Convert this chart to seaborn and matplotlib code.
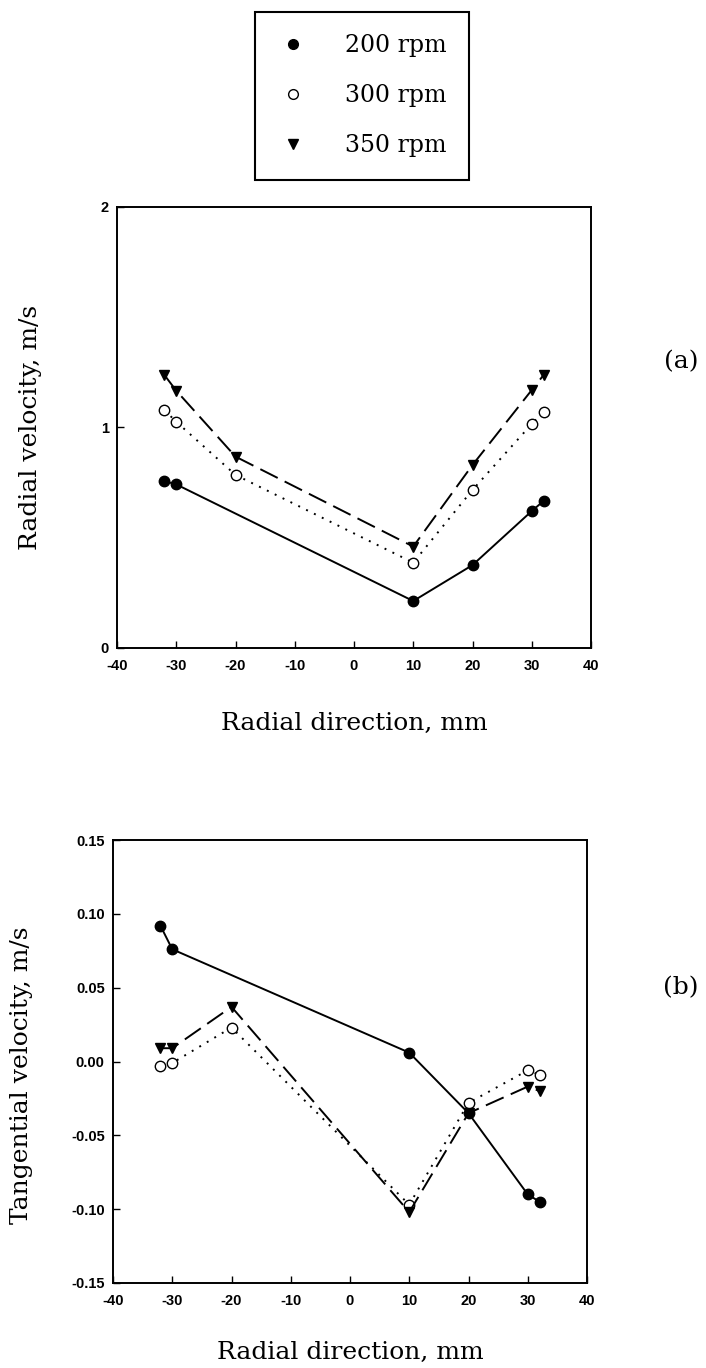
import matplotlib
matplotlib.use("Agg")
import matplotlib.pyplot as plt
from matplotlib.lines import Line2D
import seaborn as sns

# ---- data ----
series_names = ["200 rpm", "300 rpm", "350 rpm"]

# (a) radial velocity
x_a_200 = [-32, -30, 10, 20, 30, 32]
y_a_200 = [0.757, 0.742, 0.213, 0.376, 0.621, 0.667]
x_a_300 = [-32, -30, -20, 10, 20, 30, 32]
y_a_300 = [1.079, 1.026, 0.785, 0.387, 0.717, 1.016, 1.070]
x_a_350 = [-32, -30, -20, 10, 20, 30, 32]
y_a_350 = [1.238, 1.167, 0.868, 0.460, 0.830, 1.170, 1.238]

# (b) tangential velocity
x_b_200 = [-32, -30, 10, 20, 30, 32]
y_b_200 = [0.092, 0.076, 0.006, -0.035, -0.090, -0.095]
x_b_300 = [-32, -30, -20, 10, 20, 30, 32]
y_b_300 = [-0.003, -0.001, 0.023, -0.097, -0.028, -0.006, -0.009]
x_b_350 = [-32, -30, -20, 10, 20, 30, 32]
y_b_350 = [0.009, 0.009, 0.037, -0.102, -0.035, -0.017, -0.020]

x_ticks = [-40, -30, -20, -10, 0, 10, 20, 30, 40]
y_ticks_a = [0, 1, 2]
y_ticks_b = [-0.15, -0.10, -0.05, 0.00, 0.05, 0.10, 0.15]

sns.set_theme(style="white")
plt.rcParams["font.family"] = ["DejaVu Sans"]
plt.rcParams["text.color"] = "black"
plt.rcParams["axes.labelcolor"] = "black"
plt.rcParams["xtick.color"] = "black"
plt.rcParams["ytick.color"] = "black"

SERIF = "DejaVu Serif"
TICKFONT = dict(family="Liberation Sans", weight="bold", size=10.5)

fig = plt.figure(figsize=(7.06, 13.68), dpi=100)
ax_a = fig.add_axes([117 / 706, 1 - 648 / 1368, 474 / 706, 441 / 1368])
ax_b = fig.add_axes([113 / 706, 1 - 1283 / 1368, 474 / 706, 443 / 1368])

styles = [
    dict(marker="o", markerfacecolor="black", markeredgecolor="black", linestyle="-"),
    dict(marker="o", markerfacecolor="white", markeredgecolor="black", linestyle=(0, (1, 3.5))),
    dict(marker="v", markerfacecolor="black", markeredgecolor="black", linestyle=(0, (10, 4))),
]

def draw(ax, xs, ys):
    for x, y, st in zip(xs, ys, styles):
        sns.lineplot(x=x, y=y, ax=ax, color="black", linewidth=1.4,
                     markersize=7.5, markeredgewidth=1.0, sort=False, **st)

draw(ax_a, [x_a_200, x_a_300, x_a_350], [y_a_200, y_a_300, y_a_350])
draw(ax_b, [x_b_200, x_b_300, x_b_350], [y_b_200, y_b_300, y_b_350])

for ax in (ax_a, ax_b):
    ax.set_xlim(-40, 40)
    ax.set_xticks(x_ticks)
    ax.set_xticklabels([str(t) for t in x_ticks], fontdict=TICKFONT)
    for s in ax.spines.values():
        s.set_color("black")
        s.set_linewidth(1.4)
    ax.tick_params(direction="in", length=5, width=1, color="black",
                   bottom=True, left=True, top=False, right=False)
    ax.tick_params(axis="x", pad=8)
    ax.tick_params(axis="y", pad=6)
    ax.grid(False)

ax_a.set_ylim(0, 2)
ax_a.set_yticks(y_ticks_a)
ax_a.set_yticklabels([str(t) for t in y_ticks_a], fontdict=TICKFONT)
ax_b.set_ylim(-0.15, 0.15)
ax_b.set_yticks(y_ticks_b)
ax_b.set_yticklabels(["%.2f" % t for t in y_ticks_b], fontdict=TICKFONT)

ax_a.set_xlabel("Radial direction, mm", family=SERIF, fontsize=18)
ax_a.set_ylabel("Radial velocity, m/s", family=SERIF, fontsize=18)
ax_b.set_xlabel("Radial direction, mm", family=SERIF, fontsize=18)
ax_b.set_ylabel("Tangential velocity, m/s", family=SERIF, fontsize=18)
ax_a.xaxis.set_label_coords(0.5, -0.145)
ax_b.xaxis.set_label_coords(0.5, -0.13)
ax_a.yaxis.set_label_coords(-0.158, 0.5)
ax_b.yaxis.set_label_coords(-0.169, 0.47)

fig.text(681 / 706, 1 - 362 / 1368, "(a)", family=SERIF, fontsize=18, ha="center", va="center")
fig.text(681 / 706, 1 - 988 / 1368, "(b)", family=SERIF, fontsize=18, ha="center", va="center")

handles = []
for st in styles:
    h = Line2D([], [], color="black", linestyle="none", marker=st["marker"], markersize=7,
               markerfacecolor=st["markerfacecolor"], markeredgecolor=st["markeredgecolor"])
    handles.append(h)
leg = fig.legend(handles, series_names, loc="upper left",
                 bbox_to_anchor=(255 / 706, 1 - 12 / 1368),
                 prop=dict(family=SERIF, size=17), frameon=True, fancybox=False,
                 edgecolor="black", framealpha=1, borderpad=0.95, labelspacing=1.14,
                 handletextpad=1.54, handlelength=1.32, borderaxespad=0)
leg.get_frame().set_linewidth(1.5)

fig.savefig("out.png", dpi=100)
